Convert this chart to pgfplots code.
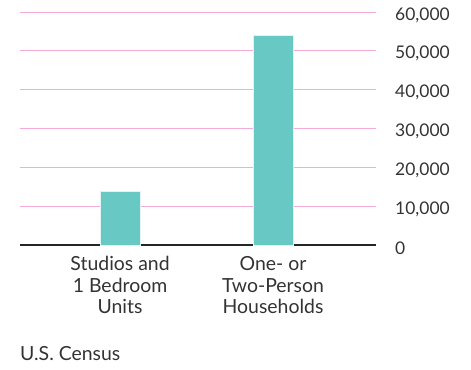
\documentclass[border=0pt]{standalone}
\usepackage{pgfplots}
\pgfplotsset{compat=1.18}
\usepackage{fontspec}
\setmainfont{Lato}
\definecolor{barc}{HTML}{68C8C3}
\definecolor{gridc}{HTML}{EE7EC4}
\definecolor{txt}{HTML}{333333}
\begin{document}
\begin{tikzpicture}[x=1bp,y=1bp]
\path[use as bounding box] (0,0) rectangle (471,369);
\begin{axis}[
  at={(20bp,124bp)}, anchor=south west,
  scale only axis, width=356bp, height=233bp,
  xmin=-0.654, xmax=1.673, ymin=0, ymax=60000,
  axis x line*=bottom, axis y line*=right,
  y axis line style={draw=none},
  x axis line style={line width=1.8pt, color=black!85, -},
  xtick={0,1}, xticklabels={{Studios and\\1 Bedroom\\Units},{One- or\\Two-Person\\Households}},
  xticklabel style={align=center, font=\fontsize{19.5}{21.5}\selectfont, text=txt, yshift=-8bp},
  major tick length=0pt,
  ytick={0,10000,...,60000},
  ymajorgrids, grid style={gridc!65!white, line width=0.9bp},
  scaled y ticks=false,
  /pgf/number format/assume math mode=true,
  yticklabel={\pgfmathprintnumber[1000 sep={,}]{\tick}},
  yticklabel style={anchor=west, text width=75bp, align=left, inner sep=0pt, font=\fontsize{17.5}{20}\selectfont, text=txt, xshift=19bp, yshift=-3bp},
  enlarge x limits=false,
  clip=false,
]
\addplot[ybar, bar width=40bp, fill=barc, draw=white!80!barc, line width=0.5pt] coordinates {(0,13900) (1,54000)};
\end{axis}
\node[anchor=base west, font=\fontsize{19.5}{22}\selectfont, text=txt, inner sep=0] at (20,9) {U.S. Census};
\end{tikzpicture}
\end{document}
